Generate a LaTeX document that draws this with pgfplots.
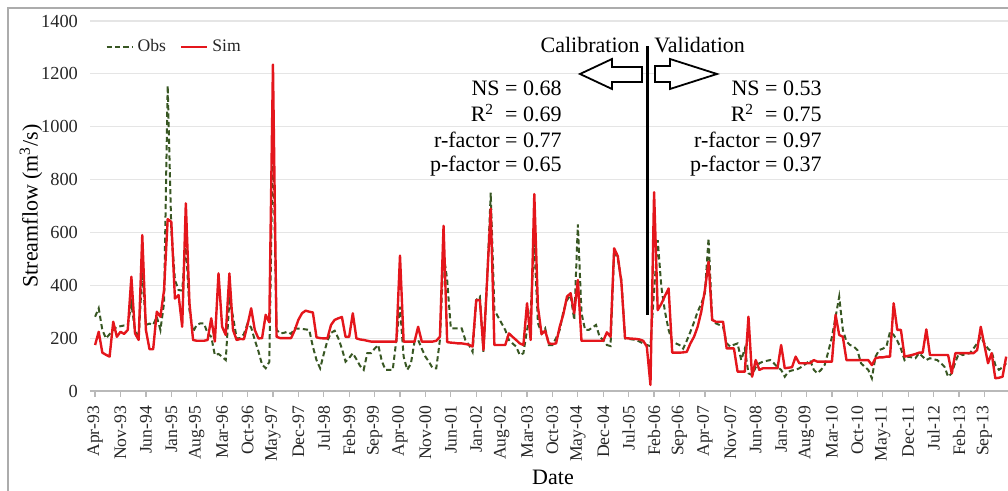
\documentclass[border=0pt]{standalone}
\usepackage{fontspec}
\setmainfont{Liberation Serif}
\usepackage{pgfplots}
\usepackage{pgfplotstable}
\pgfplotsset{compat=1.18}
\definecolor{obsgreen}{RGB}{56,87,35}
\definecolor{simred}{RGB}{228,22,28}
\pgfplotstableread{
i s o
0 174 281
1 224 313
2 145 231
3 137 199
4 130 215
5 262 231
6 205 243
7 224 245
8 216 248
9 231 250
10 432 330
11 218 230
12 193 200
13 590 450
14 231 250
15 158 255
16 158 250
17 300 281
18 281 231
19 382 333
20 650 1155
21 640 609
22 350 420
23 363 382
24 243 380
25 710 560
26 332 306
27 193 224
28 190 250
29 190 256
30 190 256
31 193 218
32 275 205
33 187 136
34 445 140
35 243 130
36 212 117
37 445 344
38 231 281
39 193 199
40 197 200
41 196 215
42 250 256
43 313 240
44 231 193
45 199 150
46 200 100
47 288 86
48 260 110
49 1235 980
50 205 231
51 200 218
52 200 220
53 200 224
54 200 216
55 230 237
56 269 236
57 294 235
58 304 233
59 300 231
60 297 168
61 203 117
62 200 86
63 199 140
64 199 190
65 250 220
66 269 228
67 275 200
68 280 160
69 205 111
70 205 125
71 294 143
72 199 120
73 195 95
74 193 80
75 190 143
76 187 143
77 187 160
78 187 174
79 187 113
80 187 80
81 187 80
82 187 80
83 187 193
84 512 319
85 187 130
86 187 80
87 187 103
88 187 187
89 243 193
90 187 160
91 187 130
92 187 110
93 187 86
94 190 86
95 205 193
96 625 520
97 185 420
98 183 237
99 182 237
100 180 237
101 180 237
102 178 193
103 175 174
104 168 148
105 344 344
106 344 357
107 155 148
108 420 420
109 690 750
110 174 306
111 174 281
112 174 256
113 174 231
114 218 193
115 205 180
116 193 168
117 180 136
118 174 143
119 332 231
120 193 300
121 745 560
122 319 257
123 215 218
124 228 237
125 180 174
126 178 174
127 180 200
128 243 231
129 290 300
130 357 344
131 370 363
132 294 269
133 420 630
134 190 295
135 190 231
136 190 231
137 190 240
138 190 250
139 190 205
140 190 193
141 222 174
142 205 170
143 540 530
144 510 500
145 410 420
146 200 199
147 199 197
148 198 195
149 197 193
150 195 187
151 190 180
152 168 174
153 23 170
154 752 380
155 306 571
156 330 394
157 360 300
158 388 231
159 145 187
160 145 180
161 145 174
162 146 160
163 148 190
164 180 224
165 205 260
166 243 300
167 300 330
168 382 370
169 489 578
170 269 269
171 262 256
172 262 250
173 262 243
174 161 180
175 161 168
176 161 175
177 73 180
178 73 117
179 73 160
180 281 67
181 54 60
182 117 90
183 80 105
184 86 111
185 86 114
186 86 117
187 86 105
188 86 90
189 174 80
190 86 54
191 88 73
192 90 78
193 130 80
194 105 86
195 105 95
196 105 105
197 105 117
198 117 80
199 111 67
200 111 80
201 111 99
202 111 149
203 111 205
204 288 280
205 212 357
206 205 231
207 117 187
208 117 174
209 117 168
210 117 155
211 117 105
212 117 92
213 117 80
214 98 48
215 124 130
216 127 155
217 127 160
218 130 168
219 130 224
220 332 212
221 231 190
222 231 160
223 130 117
224 133 130
225 136 127
226 140 124
227 145 143
228 145 130
229 233 117
230 136 124
231 136 120
232 136 117
233 136 105
234 136 92
235 136 54
236 67 67
237 143 110
238 143 143
239 143 136
240 143 140
241 143 143
242 143 161
243 155 180
244 243 205
245 174 180
246 105 160
247 143 149
248 48 99
249 50 80
250 54 90
251 130 105
}\flowdata
\begin{document}
\begin{tikzpicture}[x=0.5pt,y=0.5pt]
\useasboundingbox (0,0) rectangle (1008,491);
\draw[gray!65, line width=1pt] (8,-4) -- (8,483) -- (1012,483);
\coordinate (axpos) at (90,100);
\begin{axis}[
  at={(axpos)}, anchor=south west,
  scale only axis, width=459pt, height=185pt,
  xmin=-1.4, xmax=251.5, ymin=0, ymax=1400,
  axis x line*=bottom, axis y line*=left,
  y axis line style={draw=none},
  x axis line style={draw=gray!55, line width=0.6pt, -},
  ymajorgrids, grid style={gray!20, line width=0.6pt},
  ytick={0,200,...,1400},
  ytick style={draw=none},
  xtick={0,7,...,245},
  xticklabels={Apr-93,Nov-93,Jun-94,Jan-95,Aug-95,Mar-96,Oct-96,May-97,Dec-97,Jul-98,Feb-99,Sep-99,Apr-00,Nov-00,Jun-01,Jan-02,Aug-02,Mar-03,Oct-03,May-04,Dec-04,Jul-05,Feb-06,Sep-06,Apr-07,Nov-07,Jun-08,Jan-09,Aug-09,Mar-10,Oct-10,May-11,Dec-11,Jul-12,Feb-13,Sep-13},
  xtick align=outside, major tick length=3pt,
  xtick style={draw=gray!55, line width=0.6pt},
  /pgf/number format/assume math mode=true,
  /pgf/number format/1000 sep={},
  yticklabel style={font=\fontsize{9.2}{10}\selectfont, text=black!85, xshift=-2.5pt},
  xticklabel style={rotate=90, anchor=east, font=\fontsize{8.8}{10}\selectfont, text=black!85, xshift=-1pt},
  legend style={at={(0.01,0.93)}, anchor=west, draw=none, fill=none,
    font=\fontsize{8.8}{10}\selectfont, text=black!85,
    /tikz/every even column/.append style={column sep=5pt}},
  legend columns=2,
  legend image code/.code={\draw[#1] (0pt,0pt) -- (13pt,0pt);},
]
\addplot[obsgreen, line width=1pt, dash pattern=on 2.6pt off 1.6pt] table[x=i, y=o] {\flowdata};
\addlegendentry{Obs}
\addplot[simred, line width=1.2pt, line join=round] table[x=i, y=s] {\flowdata};
\addlegendentry{Sim}
\draw[black, line width=1.5pt] (axis cs:152.3,288) -- (axis cs:152.3,1305);
\end{axis}
% block arrows
\draw[black, line width=0.9pt, fill=white, line join=miter] (642,424) -- (612,424) -- (612,432) -- (580,417) -- (612,402) -- (612,409) -- (642,409) -- cycle;
\draw[black, line width=0.9pt, fill=white, line join=miter] (655,425) -- (670,425) -- (670,432) -- (717,417) -- (670,402) -- (670,409) -- (655,409) -- cycle;
\begin{scope}[every node/.style={inner sep=0pt, font=\fontsize{11}{13}\selectfont}]
\node[anchor=base east] at (640,438) {Calibration};
\node[anchor=base west] at (654,438) {Validation};
\node[anchor=base east] at (562,395) {NS = 0.68};
\node[anchor=base east] at (562,369) {R\textsuperscript{2}\ \ = 0.69};
\node[anchor=base east] at (562,343.5) {r-factor = 0.77};
\node[anchor=base east] at (562,319) {p-factor = 0.65};
\node[anchor=base east] at (822,395) {NS = 0.53};
\node[anchor=base east] at (822,369) {R\textsuperscript{2}\ \ = 0.75};
\node[anchor=base east] at (822,343.5) {r-factor = 0.97};
\node[anchor=base east] at (822,319) {p-factor = 0.37};
\node[rotate=90] at (31,285) {Streamflow (m\textsuperscript{3}/s)};
\node at (553,14) {Date};
\end{scope}
\end{tikzpicture}
\end{document}
